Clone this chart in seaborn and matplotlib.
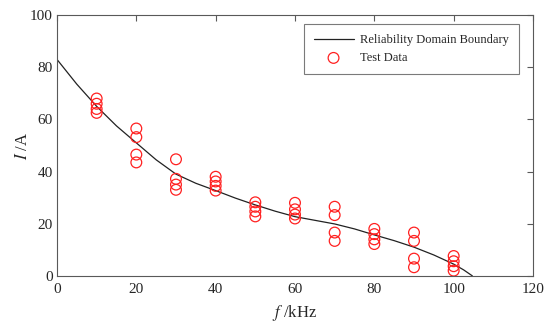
import pandas as pd
import matplotlib.pyplot as plt
import seaborn as sns

# Test data (frequency in kHz, current in A)
freq = [10] * 4 + [20] * 4 + [30] * 4 + [40] * 4 + [50] * 4 + [60] * 4 + [70] * 4 + [80] * 4 + [90] * 4 + [100] * 4
current = [68, 66, 64, 62.5,
           56.5, 53.2, 46.5, 43.5,
           44.7, 37.2, 35, 33,
           38, 36.2, 34.5, 32.7,
           28.2, 26.5, 24.7, 22.8,
           28, 25.5, 23.5, 22,
           26.5, 23.3, 16.6, 13.4,
           18, 16, 14, 12.2,
           16.6, 13.4, 6.6, 3.3,
           7.6, 5.6, 3.7, 2]

# Reliability domain boundary
boundary_f = [0, 5, 10, 15, 20, 25, 30, 35, 40, 45, 50, 55, 60, 65, 70, 75, 80, 85, 90, 95, 100, 102.5, 104.7]
boundary_i = [83, 73.5, 65, 57.5, 51, 44.5, 39, 35.5, 32.7, 29.8, 27.2, 24.8, 22.7, 21.3, 19.9, 18, 15.7, 13.5, 11, 8, 4.5, 2.3, 0]

test_df = pd.DataFrame({'f': freq, 'I': current})
curve_df = pd.DataFrame({'f': boundary_f, 'I': boundary_i})

sns.set_style('white')
plt.rcParams['font.family'] = ['Liberation Serif', 'DejaVu Serif']
plt.rcParams['mathtext.fontset'] = 'stix'

fig = plt.figure(figsize=(5.5, 3.28), dpi=100)
ax = fig.add_axes([0.1036, 0.159, 0.8655, 0.795])

sns.lineplot(data=curve_df, x='f', y='I', color='#222222', linewidth=0.9,
             label='Reliability Domain Boundary', ax=ax, sort=False)
sns.scatterplot(data=test_df, x='f', y='I', marker='o', s=60, facecolors='none',
                edgecolor='#ff2020', linewidth=0.9, label='Test Data', ax=ax, zorder=3)

ax.set_xlim(0, 120)
ax.set_ylim(0, 100)
ax.set_xticks(range(0, 121, 20))
ax.set_yticks(range(0, 101, 20))
ax.set_xlabel(r'$\mathit{f}$ /kHz', fontsize=12, labelpad=5)
ax.set_ylabel(r'$\mathit{I}$ /A', fontsize=12, labelpad=-1)

for s in ax.spines.values():
    s.set_color('0.35')
    s.set_linewidth(0.8)
ax.tick_params(direction='in', length=4, width=0.8, color='0.35',
               top=True, right=True, labelsize=11)
ax.tick_params(axis='x', pad=5)
ax.tick_params(axis='y', pad=3)

leg = ax.legend(loc='upper right', fontsize=9, frameon=True, fancybox=False,
                edgecolor='0.35', borderpad=0.8, handlelength=3.2, handletextpad=0.5,
                bbox_to_anchor=(0.983, 0.99))
leg.get_frame().set_linewidth(0.8)

plt.savefig('out.png', dpi=100)
